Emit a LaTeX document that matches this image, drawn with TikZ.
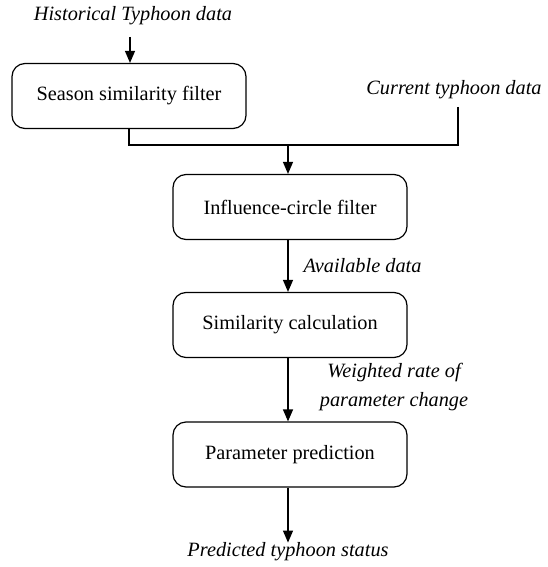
\documentclass[tikz,border=0pt]{standalone}
\usepackage{fontspec}
\setmainfont{Liberation Serif}
\usetikzlibrary{arrows.meta}
\tikzset{
  procbox/.style={draw, line width=1.2pt, rounded corners=13pt, minimum width=234pt,
    minimum height=65pt, inner sep=0pt, font=\fontsize{20.3}{24}\selectfont},
  datalabel/.style={font=\fontsize{20.3}{24}\selectfont\itshape, inner sep=0pt},
  flow/.style={line width=1.2pt, -{Triangle[length=12pt,width=10pt]}},
  link/.style={line width=1.2pt}
}
\begin{document}
\begin{tikzpicture}[x=1pt,y=1pt]
\useasboundingbox (0,0) rectangle (547,-567);
% inputs
\node[datalabel] (hist) at (133,-16) {Historical Typhoon data};
\node[datalabel] (curr) at (454,-90) {Current typhoon data};
% processing steps
\node[procbox] (season) at (129,-96) {Season similarity filter};
\node[procbox] (infl) at (290,-207) {Influence-circle filter};
\node[procbox] (simc) at (290,-325) {Similarity calculation};
\node[procbox] (pred) at (290,-454.5) {Parameter prediction};
% output
\node[datalabel] (out) at (288,-552) {Predicted typhoon status};
% junction of the two data streams
\coordinate (join) at (288,-145);
\coordinate (currfoot) at (458,-107);
\draw[flow] (130,-37) -- (season.north -| 130,0);
\draw[link] (season.south -| 129,0) -- (129,-145) -- (join);
\draw[link] (currfoot) -- (458,-145) -- (join);
\draw[flow] (join) -- (infl.north -| join);
\draw[flow] (infl.south -| join) -- node[datalabel, right=15pt] {Available data} (simc.north -| join);
\draw[flow] (simc.south -| join) -- (pred.north -| join);
\node[datalabel, align=center] (wrate) at (394,-387) {Weighted rate of\\[5pt]parameter change};
\draw[flow] (pred.south -| join) -- (out.north -| join);
\end{tikzpicture}
\end{document}
